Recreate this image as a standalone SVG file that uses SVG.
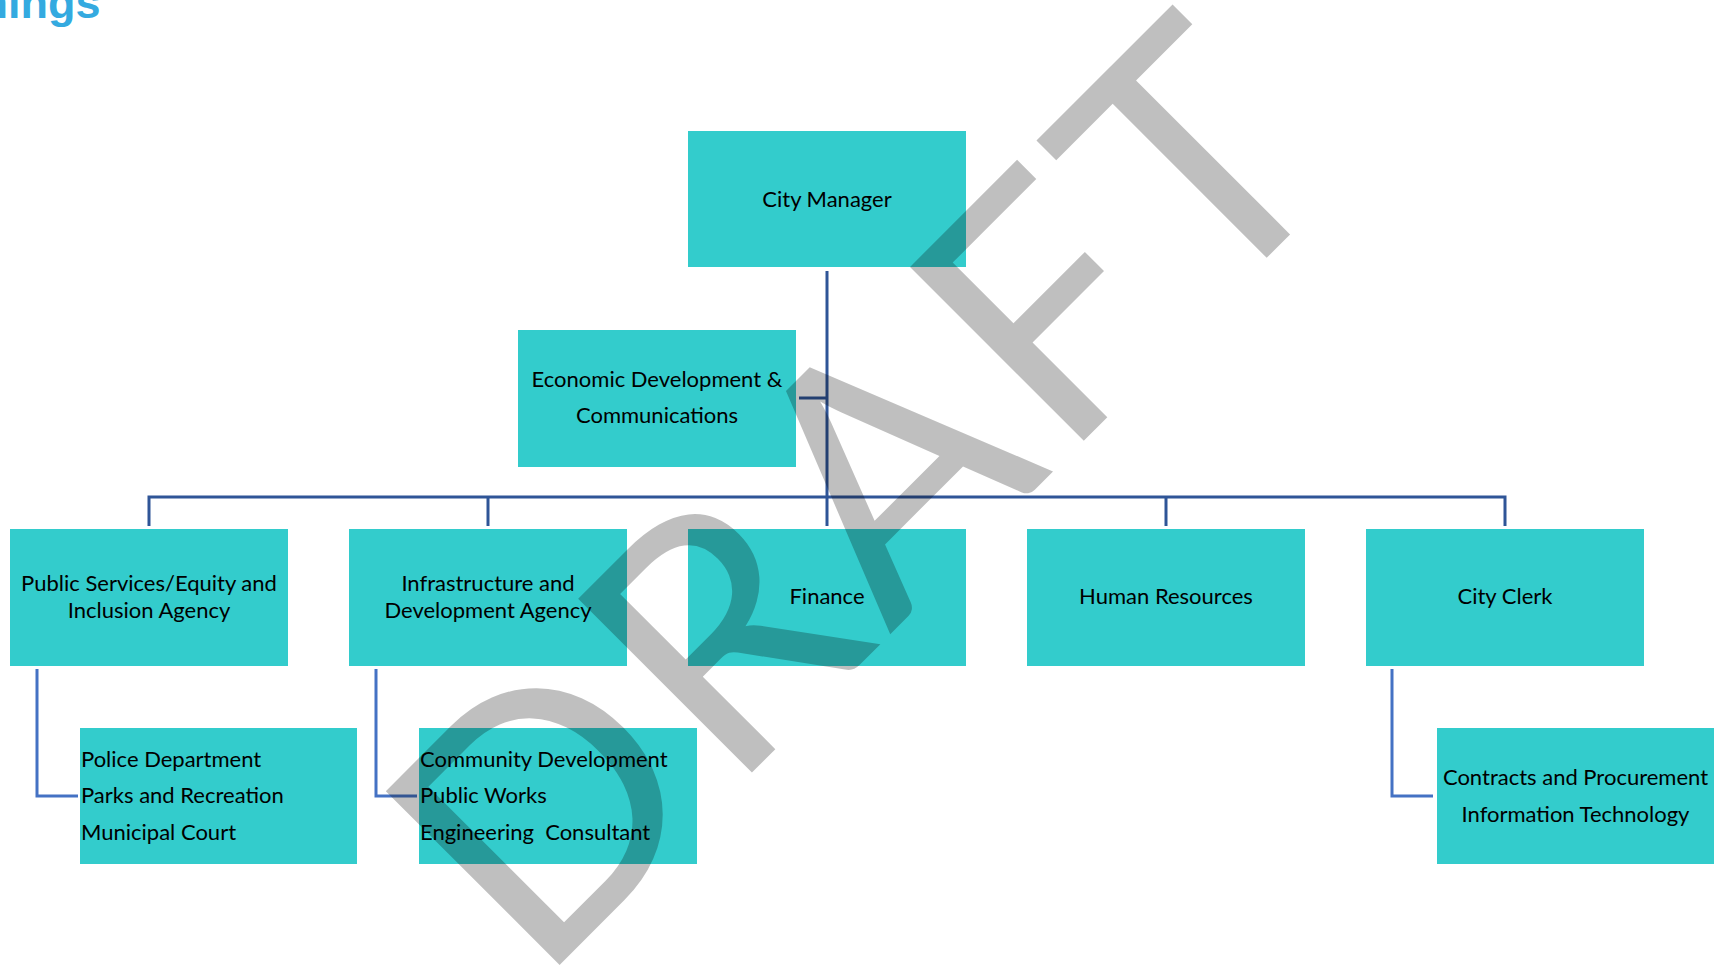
<svg xmlns="http://www.w3.org/2000/svg" width="1718" height="967" viewBox="0 0 1718 967">
  <style>
    .box { fill: #33CCCC; }
    .lbl { font-family: "Lato", "Liberation Sans", sans-serif; font-size: 22px; fill: #000; white-space: pre; }
    .mid { text-anchor: middle; }
    .main { fill: none; stroke: #2F5597; stroke-width: 3; }
    .sub { fill: none; stroke: #4472C4; stroke-width: 3; }
    .mark { font-family: "Lato", "Liberation Sans", sans-serif; font-size: 343px; fill: #000; fill-opacity: 0.25; }
    .logo { font-family: "Liberation Sans", Arial, sans-serif; font-weight: bold; font-size: 45px; fill: #34AAE0; }
  </style>

  <rect width="1718" height="967" fill="#FFFFFF"/>

  <!-- logo fragment clipped at the top-left corner -->
  <text class="logo" x="-19.5" y="18">nings</text>

  <!-- reporting lines -->
  <g id="connectors">
    <path class="main" d="M827,271 V526"/>
    <path class="main" d="M799,398 H827"/>
    <path class="main" d="M149,526 V497 H1505 V526"/>
    <path class="main" d="M488,497 V526"/>
    <path class="main" d="M1166,497 V526"/>
    <path class="sub" d="M37,669 V796 H78"/>
    <path class="sub" d="M376,669 V796 H417"/>
    <path class="sub" d="M1392,669 V796 H1433"/>
  </g>

  <g id="city-manager">
    <rect class="box" x="688" y="131" width="278" height="136"/>
    <text class="lbl mid" x="827" y="207">City Manager</text>
  </g>

  <g id="economic-development">
    <rect class="box" x="518" y="330" width="278" height="137"/>
    <text class="lbl mid" x="657" y="387">Economic Development &amp;</text>
    <text class="lbl mid" x="657" y="423">Communications</text>
  </g>

  <g id="public-services">
    <rect class="box" x="10" y="529" width="278" height="137"/>
    <text class="lbl mid" x="149" y="591">Public Services/Equity and</text>
    <text class="lbl mid" x="149" y="618">Inclusion Agency</text>
  </g>

  <g id="infrastructure">
    <rect class="box" x="349" y="529" width="278" height="137"/>
    <text class="lbl mid" x="488" y="591">Infrastructure and</text>
    <text class="lbl mid" x="488" y="618">Development Agency</text>
  </g>

  <g id="finance">
    <rect class="box" x="688" y="529" width="278" height="137"/>
    <text class="lbl mid" x="827" y="604">Finance</text>
  </g>

  <g id="human-resources">
    <rect class="box" x="1027" y="529" width="278" height="137"/>
    <text class="lbl mid" x="1166" y="604">Human Resources</text>
  </g>

  <g id="city-clerk">
    <rect class="box" x="1366" y="529" width="278" height="137"/>
    <text class="lbl mid" x="1505" y="604">City Clerk</text>
  </g>

  <g id="public-services-units">
    <rect class="box" x="80" y="728" width="277" height="136"/>
    <text class="lbl" x="81" y="767">Police Department</text>
    <text class="lbl" x="81" y="803">Parks and Recreation</text>
    <text class="lbl" x="81" y="840">Municipal Court</text>
  </g>

  <g id="infrastructure-units">
    <rect class="box" x="419" y="728" width="278" height="136"/>
    <text class="lbl" x="420" y="767">Community Development</text>
    <text class="lbl" x="420" y="803">Public Works</text>
    <text class="lbl" x="420" y="840" xml:space="preserve">Engineering  Consultant</text>
  </g>

  <g id="city-clerk-units">
    <rect class="box" x="1437" y="728" width="277" height="136"/>
    <text class="lbl mid" x="1575.5" y="785">Contracts and Procurement</text>
    <text class="lbl mid" x="1575.5" y="822">Information Technology</text>
  </g>

  <!-- watermark across the chart -->
  <text class="mark" transform="rotate(-45)" x="-318" y="1078" textLength="1149" lengthAdjust="spacing">DRAFT</text>
</svg>
